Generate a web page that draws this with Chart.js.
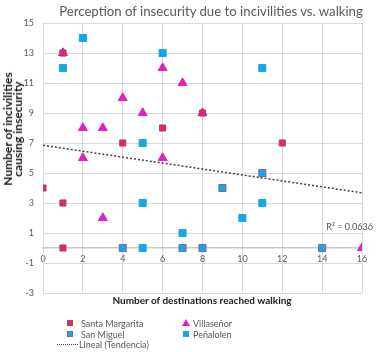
<!DOCTYPE html>
<html>
<head>
<meta charset="utf-8">
<script src="https://cdn.jsdelivr.net/npm/chart.js@4.4.0/dist/chart.umd.min.js"></script>
<style>
  html, body { margin: 0; padding: 0; background: #fff; }
  #wrap { position: relative; width: 376px; height: 352px; font-family: Lato, 'Open Sans', sans-serif; color: #595959; overflow: hidden; }
  #chart { position: absolute; left: 0; top: 0; }
  .lbl { position: absolute; white-space: nowrap; line-height: 1; }
  #title { left: 211px; top: 12px; transform: translate(-50%, -50%); font-size: 13.2px; }
  #yTitle { left: 13px; top: 129px; transform: translate(-50%, -50%) rotate(-90deg); font-size: 12px; font-weight: bold; color: #1a1a1a; text-align: center; line-height: 10px; }
  #xTitle { left: 202px; top: 300px; transform: translate(-50%, -50%); font-size: 10px; font-weight: bold; color: #1a1a1a; }
  #r2 { right: 3px; top: 222px; font-size: 9px; }
  .leg { font-size: 9px; transform: translateY(-50%); }
  .mk { position: absolute; box-sizing: border-box; }
</style>
</head>
<body>
<div id="wrap">
  <canvas id="chart" width="376" height="352"></canvas>
  <div class="lbl" id="title">Perception of insecurity due to incivilities vs. walking</div>
  <div class="lbl" id="yTitle">Number of incivilities<br>causing insecurity</div>
  <div class="lbl" id="xTitle">Number of destinations reached walking</div>
  <div class="lbl" id="r2">R² = 0.0636</div>

  <div class="mk" style="left:67px;top:320px;width:6px;height:6px;background:#EC179F;border:1px solid #A0522D"></div>
  <div class="lbl leg" style="left:81px;top:323px">Santa Margarita</div>
  <div class="mk" style="left:182px;top:319px;width:0;height:0;border-left:4px solid transparent;border-right:4px solid transparent;border-bottom:7px solid #E020C0"></div>
  <div class="lbl leg" style="left:193px;top:323px">Villaseñor</div>
  <div class="mk" style="left:67px;top:331px;width:6px;height:6px;background:#14A8E4;border:1px solid #8064A2"></div>
  <div class="lbl leg" style="left:81px;top:334px">San Miguel</div>
  <div class="mk" style="left:183px;top:331px;width:6px;height:6px;background:#14A8E4"></div>
  <div class="lbl leg" style="left:193px;top:334px">Peñalolen</div>
  <div class="mk" style="left:57px;top:344px;width:21px;height:0;border-top:1px dotted #404040"></div>
  <div class="lbl leg" style="left:79px;top:344px">Lineal (Tendencia)</div>
</div>
<script>
// ─── Data ─────────────────────────────────────────────────────────────────────

const santaMargaritaX = [0, 1, 1, 1, 4, 6, 8, 12];
const santaMargaritaY = [4, 3, 0, 13, 7, 8, 9, 7];

const villasenorX = [1, 2, 3, 2, 4, 5, 6, 7, 6, 8, 3, 16];
const villasenorY = [13, 8, 8, 6, 10, 9, 12, 11, 6, 9, 2, 0];

const sanMiguelX = [4, 7, 8, 9, 11, 14];
const sanMiguelY = [0, 0, 0, 4, 5, 0];

const penalolenX = [2, 6, 1, 5, 11, 5, 7, 5, 10, 11];
const penalolenY = [14, 13, 12, 7, 12, 3, 1, 0, 2, 3];

// trend line end points
const trendX = [0, 16];
const trendY = [6.85, 3.68];

const xTicks = [0, 2, 4, 6, 8, 10, 12, 14, 16];
const yTicks = [-3, -1, 1, 3, 5, 7, 9, 11, 13, 15];

const toPoints = (xs, ys) => xs.map((x, i) => ({ x, y: ys[i] }));

// ─── Chart ────────────────────────────────────────────────────────────────────

const GRID = '#D9D9D9';
const TICK = '#595959';

new Chart(document.getElementById('chart'), {
  type: 'scatter',
  data: {
    datasets: [
      {
        label: 'Santa Margarita',
        data: toPoints(santaMargaritaX, santaMargaritaY),
        pointStyle: 'rect',
        pointRadius: 4.3,
        backgroundColor: '#EC179F',
        borderColor: '#A0522D',
        borderWidth: 1,
        order: 1,
      },
      {
        label: 'Villaseñor',
        data: toPoints(villasenorX, villasenorY),
        pointStyle: 'triangle',
        pointRadius: 5.2,
        backgroundColor: '#E020C0',
        borderColor: '#E020C0',
        borderWidth: 1,
        order: 2,
      },
      {
        label: 'San Miguel',
        data: toPoints(sanMiguelX, sanMiguelY),
        pointStyle: 'rect',
        pointRadius: 5,
        backgroundColor: '#14A8E4',
        borderColor: '#8064A2',
        borderWidth: 1,
        order: 3,
      },
      {
        label: 'Peñalolen',
        data: toPoints(penalolenX, penalolenY),
        pointStyle: 'rect',
        pointRadius: 5,
        backgroundColor: '#14A8E4',
        borderColor: '#14A8E4',
        borderWidth: 1,
        order: 4,
      },
      {
        type: 'line',
        label: 'Lineal (Tendencia)',
        data: toPoints(trendX, trendY),
        borderColor: '#404040',
        borderWidth: 1.5,
        borderDash: [2, 2],
        pointRadius: 0,
        fill: false,
        order: 0,
      },
    ],
  },
  options: {
    responsive: false,
    animation: false,
    events: [],
    layout: { padding: { top: 23, right: 14, bottom: 59, left: 0 } },
    plugins: {
      legend: { display: false },
      tooltip: { enabled: false },
      title: { display: false },
    },
    scales: {
      x: {
        type: 'linear',
        position: { y: 0 },
        min: 0,
        max: 16,
        afterBuildTicks: s => { s.ticks = xTicks.map(v => ({ value: v })); },
        grid: { color: GRID, lineWidth: 1, drawTicks: false },
        border: { color: '#C8C8C8', width: 1.5 },
        ticks: { color: TICK, font: { family: 'Lato', size: 9 }, padding: 6, maxRotation: 0 },
      },
      y: {
        type: 'linear',
        min: -3,
        max: 15,
        afterBuildTicks: s => { s.ticks = yTicks.map(v => ({ value: v })); },
        afterFit: s => { s.width = 43; },
        grid: { color: GRID, lineWidth: 1, drawTicks: false },
        border: { color: GRID, width: 1 },
        ticks: { color: TICK, font: { family: 'Lato', size: 9 }, padding: 9 },
      },
    },
  },
});
</script>
</body>
</html>
